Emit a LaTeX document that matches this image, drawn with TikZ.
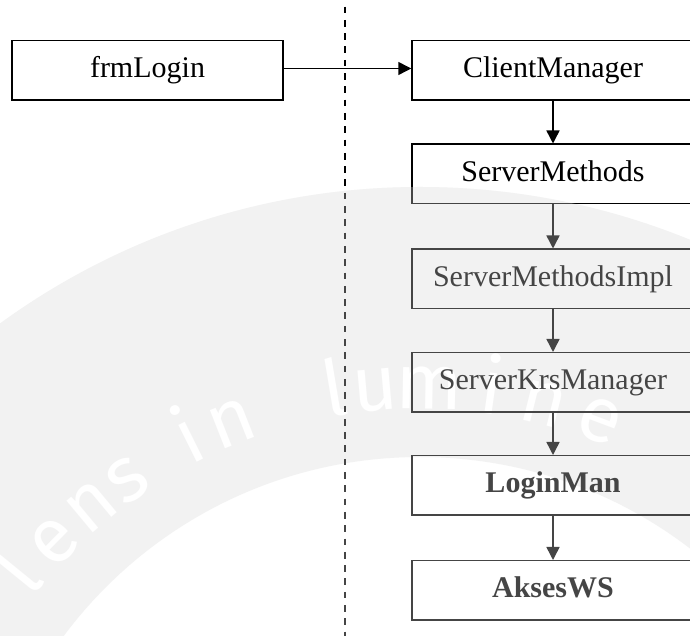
\documentclass[tikz,border=0pt]{standalone}
\usepackage{fontspec}
\setmainfont{Liberation Serif}
\newfontfamily\wmfont{Fira Sans}
\usetikzlibrary{arrows.meta}
\definecolor{wmring}{gray}{0.935}
\begin{document}
\begin{tikzpicture}[x=1pt,y=1pt,
  box/.style={draw=black, line width=1.5pt, minimum height=59.5pt, inner sep=0pt,
    font=\fontsize{30}{35}\selectfont, text height=20.5pt, text depth=5.5pt},
  conn/.style={line width=1.5pt, -{Triangle[length=13pt,width=13pt]}},
  sep/.style={line width=1.6pt, dash pattern=on 6.7pt off 6.6pt, dash phase=6.7pt},
  wm/.style={white, font=\wmfont\fontsize{78}{78}\selectfont, anchor=base, inner sep=0pt}]
\useasboundingbox (0,0) rectangle (690,636);
\clip (0,0) rectangle (690,636);
\fill[white] (0,0) rectangle (690,636);

% faint seal in the background: grey ring with its motto
\coordinate (wmc) at (420,-265);
\fill[wmring, even odd rule] (wmc) circle (714) (wmc) circle (444);
\foreach \ang/\ch [count=\i] in {140.8/l,135.5/e,129.8/n,124.8/s,116.5/i,111.5/n,99.5/l,95/u,89/m,82/i,76/n,69.5/e}
  \path (wmc) ++(\ang:492) node[wm, rotate=\ang-90] (wm\i) {\ch};

% boundary between client and server side
\coordinate (dtop) at (345,636);
\coordinate (dbot) at (345,0);
\draw[sep] (dtop) -- (dbot);

% classes
\node[box, minimum width=271pt] (frm) at (147.5,565.5) {frmLogin};
\node[box, minimum width=282pt] (cm)  at (553,565.5) {ClientManager};
\node[box, minimum width=282pt] (sm)  at (553,462)   {ServerMethods};
\node[box, minimum width=282pt] (smi) at (553,357)   {ServerMethodsImpl};
\node[box, minimum width=282pt] (skm) at (553,253.5) {ServerKrsManager};
\node[box, minimum width=282pt] (lm)  at (553,150.5) {\bfseries LoginMan};
\node[box, minimum width=282pt] (aws) at (553,45.5)  {\bfseries AksesWS};

% calls
\draw[conn] ([yshift=2pt]frm.east) -- ([yshift=2pt]cm.west);
\draw[conn] (cm) -- (sm);
\draw[conn] (sm) -- (smi);
\draw[conn] (smi) -- (skm);
\draw[conn] (skm) -- (lm);
\draw[conn] (lm) -- (aws);

% seal overlay softens everything inside it
\fill[white, opacity=0.27] (wmc) circle (714);
\end{tikzpicture}
\end{document}
